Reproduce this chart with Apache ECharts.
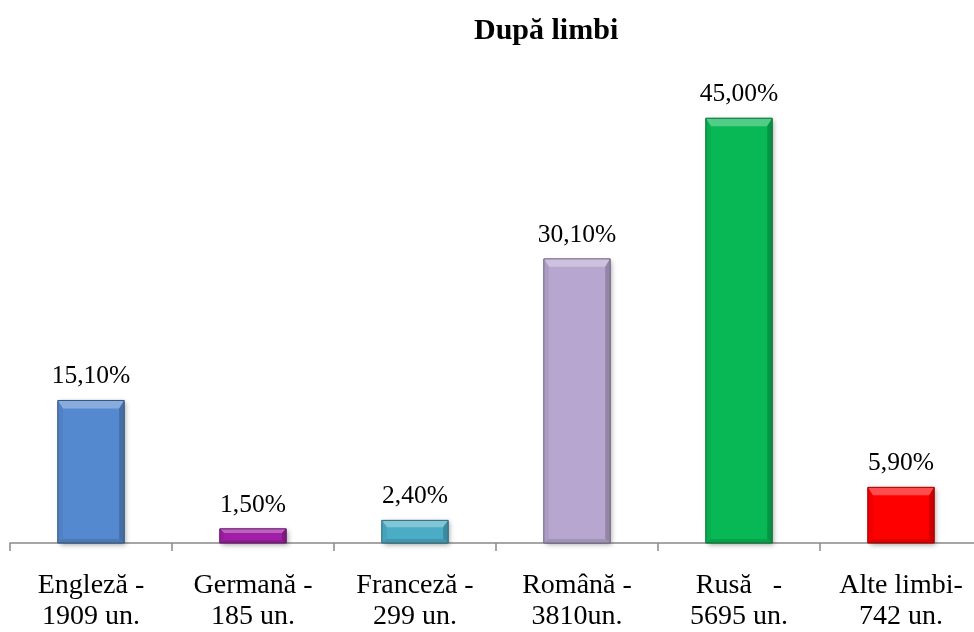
<!DOCTYPE html>
<html>
<head>
<meta charset="utf-8">
<script src="https://cdn.jsdelivr.net/npm/echarts@6/dist/echarts.min.js"></script>
<style>
html,body{margin:0;padding:0;background:#fff;}
#chart{width:974px;height:632px;}
</style>
</head>
<body>
<div id="chart"></div>
<script>
const title = 'După limbi';
const categories = ['Engleză -\n1909 un.', 'Germană -\n185 un.', 'Franceză -\n299 un.', 'Română -\n3810un.', 'Rusă   -\n5695 un.', 'Alte limbi-\n742 un.'];
const values = [15.1, 1.5, 2.4, 30.1, 45.0, 5.9];
const colors = ['#5589cf', '#a01fa6', '#4bacc6', '#b7a6d0', '#08b854', '#ff0000'];

function mix(c, t, k) {
  const p = s => [parseInt(s.slice(1,3),16), parseInt(s.slice(3,5),16), parseInt(s.slice(5,7),16)];
  const a = p(c), b = p(t);
  const r = a.map((v,i) => Math.round(v + (b[i]-v)*k));
  return 'rgb(' + r.join(',') + ')';
}

const chart = echarts.init(document.getElementById('chart'));
chart.setOption({
  animation: false,
  backgroundColor: '#ffffff',
  title: {
    text: title, left: 'center', top: 11,
    textStyle: { fontFamily: 'Liberation Serif', fontWeight: 'bold', fontSize: 30, color: '#000' }
  },
  graphic: [],
  grid: { left: 10, top: 71, width: 972, bottom: 89, outerBoundsMode: 'none', containLabel: false },
  xAxis: {
    type: 'category', data: categories,
    axisLine: { lineStyle: { color: '#898989', width: 1.5 } },
    axisTick: { show: true, length: 8, lineStyle: { color: '#898989', width: 1.5 } },
    axisLabel: { interval: 0, margin: 27, fontFamily: 'Liberation Serif', fontSize: 28, lineHeight: 31, color: '#000' }
  },
  yAxis: { type: 'value', min: 0, max: 50, show: false, splitLine: { show: false } },
  series: [{
    type: 'custom',
    data: values.map((v, i) => [i, v]),
    encode: { x: 0, y: 1 },
    renderItem: function (params, api) {
      const i = api.value(0), v = api.value(1);
      const p0 = api.coord([i, 0]), p1 = api.coord([i, v]);
      const w = api.size([1, 0])[0] * 0.41;
      const x0 = p0[0] - w / 2, x1 = p0[0] + w / 2, yb = p0[1], yt = p1[1];
      const h = yb - yt;
      const bt = Math.min(8, h * 0.3), bs = Math.min(5, h * 0.3), bb = Math.min(4, h * 0.2);
      const c = colors[i];
      const lbl = v.toFixed(2).replace('.', ',') + '%';
      return {
        type: 'group',
        children: [
          { type: 'rect', shape: { x: x0, y: yt, width: w, height: h },
            style: { fill: c, shadowBlur: 5, shadowOffsetX: 2, shadowOffsetY: 2, shadowColor: 'rgba(0,0,0,0.35)' } },
          { type: 'polygon', shape: { points: [[x0, yt], [x1, yt], [x1 - bs, yt + bt], [x0 + bs, yt + bt]] },
            style: { fill: mix(c, '#ffffff', 0.3) } },
          { type: 'polygon', shape: { points: [[x0, yt], [x0 + bs, yt + bt], [x0 + bs, yb - bb], [x0, yb]] },
            style: { fill: mix(c, '#000000', 0.06) } },
          { type: 'polygon', shape: { points: [[x1, yt], [x1, yb], [x1 - bs, yb - bb], [x1 - bs, yt + bt]] },
            style: { fill: mix(c, '#000000', 0.2) } },
          { type: 'polygon', shape: { points: [[x0, yb], [x1, yb], [x1 - bs, yb - bb], [x0 + bs, yb - bb]] },
            style: { fill: mix(c, '#000000', 0.12) } },
          { type: 'rect', shape: { x: x0, y: yt, width: w, height: h },
            style: { fill: 'none', stroke: mix(c, '#000000', 0.4), lineWidth: 1 } },
          { type: 'text', style: { text: lbl, x: p0[0], y: yt - 24, align: 'center', verticalAlign: 'middle',
            font: '25.5px "Liberation Serif"', fill: '#000' } }
        ]
      };
    }
  }]
});
// Shift title so its centre sits at x = 541 like the reference
chart.setOption({ title: { left: 541 - 72, top: 11 } });
</script>
</body>
</html>
